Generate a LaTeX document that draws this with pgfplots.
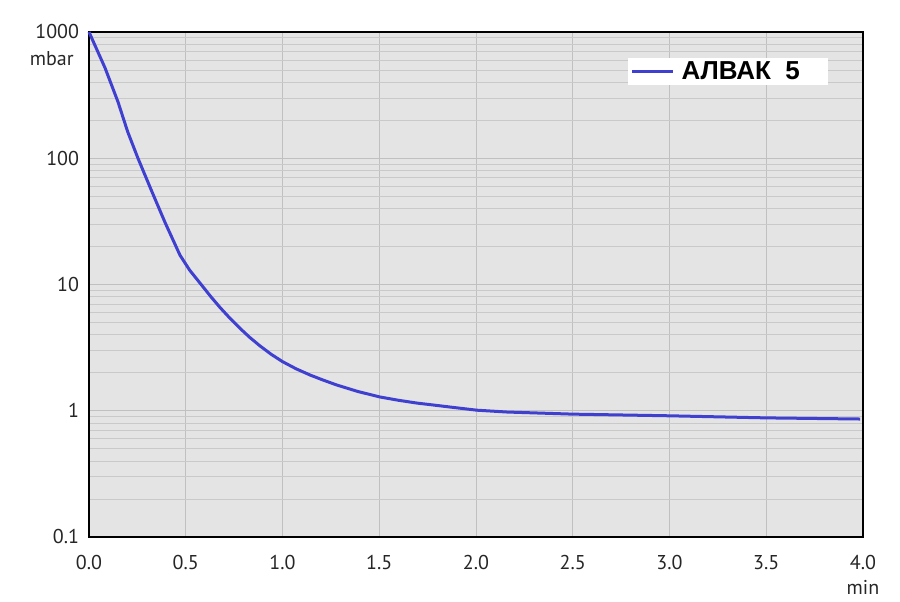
\documentclass[border=0pt]{standalone}
\usepackage{pgfplots}
\pgfplotsset{compat=1.18}
\usepackage{fontspec}
\setmainfont{PT Sans}
\newfontfamily\legfont{Liberation Sans}

\definecolor{curve}{RGB}{64,64,208}
\definecolor{plotbg}{RGB}{228,228,228}
\definecolor{gridc}{RGB}{192,192,192}

\begin{document}
\begin{tikzpicture}
\begin{axis}[
  scale only axis,
  width=580.5pt, height=378.75pt,
  ymode=log,
  xmin=0, xmax=4, ymin=0.1, ymax=1000,
  axis background/.style={fill=plotbg},
  axis line style={black, line width=1pt},
  xtick={0,0.5,...,4},
  ytick={0.1,1,10,100,1000},
  yticklabels={0.1,1,10,100,1000},
  xticklabel style={/pgf/number format/fixed, /pgf/number format/fixed zerofill,
    /pgf/number format/precision=1},
  /pgf/number format/assume math mode=true,
  major tick length=0pt, minor tick length=0pt,
  xmajorgrids, ymajorgrids, yminorgrids,
  major grid style={gridc, line width=0.6pt},
  minor grid style={gridc!85!white, line width=0.6pt},
  tick label style={font=\fontsize{15}{18}\selectfont, text=black!85},
  yticklabel style={xshift=-4pt},
  xticklabel style={yshift=-10pt},
  legend style={at={(rel axis cs:0.696,0.95)}, anchor=north west,
    draw=none, fill=white, inner xsep=2pt, inner ysep=1pt,
    font=\legfont\bfseries\fontsize{19.5}{21}\selectfont,
    nodes={inner xsep=5pt}},
  legend cell align=left,
  legend image code/.code={\draw[#1, line width=2.2pt] (0pt,0pt) -- (31pt,0pt);},
  clip=false,
]
\addplot[curve, line width=2.25pt, line join=round] coordinates {
  (0.000,1000) (0.083,519) (0.150,279) (0.200,162) (0.253,100)
  (0.326,54) (0.393,31) (0.470,17.1) (0.520,13.0) (0.574,10.25)
  (0.630,8.0) (0.677,6.58) (0.730,5.37) (0.780,4.50) (0.830,3.82) (0.884,3.26)
  (0.940,2.81) (1.000,2.45) (1.070,2.15) (1.142,1.92)
  (1.210,1.75) (1.280,1.60) (1.390,1.42) (1.504,1.285) (1.600,1.21) (1.695,1.15)
  (1.780,1.11) (1.866,1.07) (2.005,1.01)
  (2.160,0.977) (2.500,0.94) (3.000,0.912) (3.500,0.878) (3.985,0.86)
};
\addlegendentry{АЛВАК\ \ 5\rule{14pt}{0pt}}
\node[anchor=north east, font=\fontsize{15}{18}\selectfont, text=black!85]
  at ([xshift=-8pt, yshift=-11pt]rel axis cs:0,1) {mbar};
\node[anchor=north, font=\fontsize{15}{18}\selectfont, text=black!85]
  at ([yshift=-29pt]rel axis cs:1,0) {min};
\end{axis}
\pgfresetboundingbox
\path (current axis.south west) ++(-66.75pt,-48.75pt) rectangle ++(675pt,451.5pt);
\end{tikzpicture}
\end{document}
